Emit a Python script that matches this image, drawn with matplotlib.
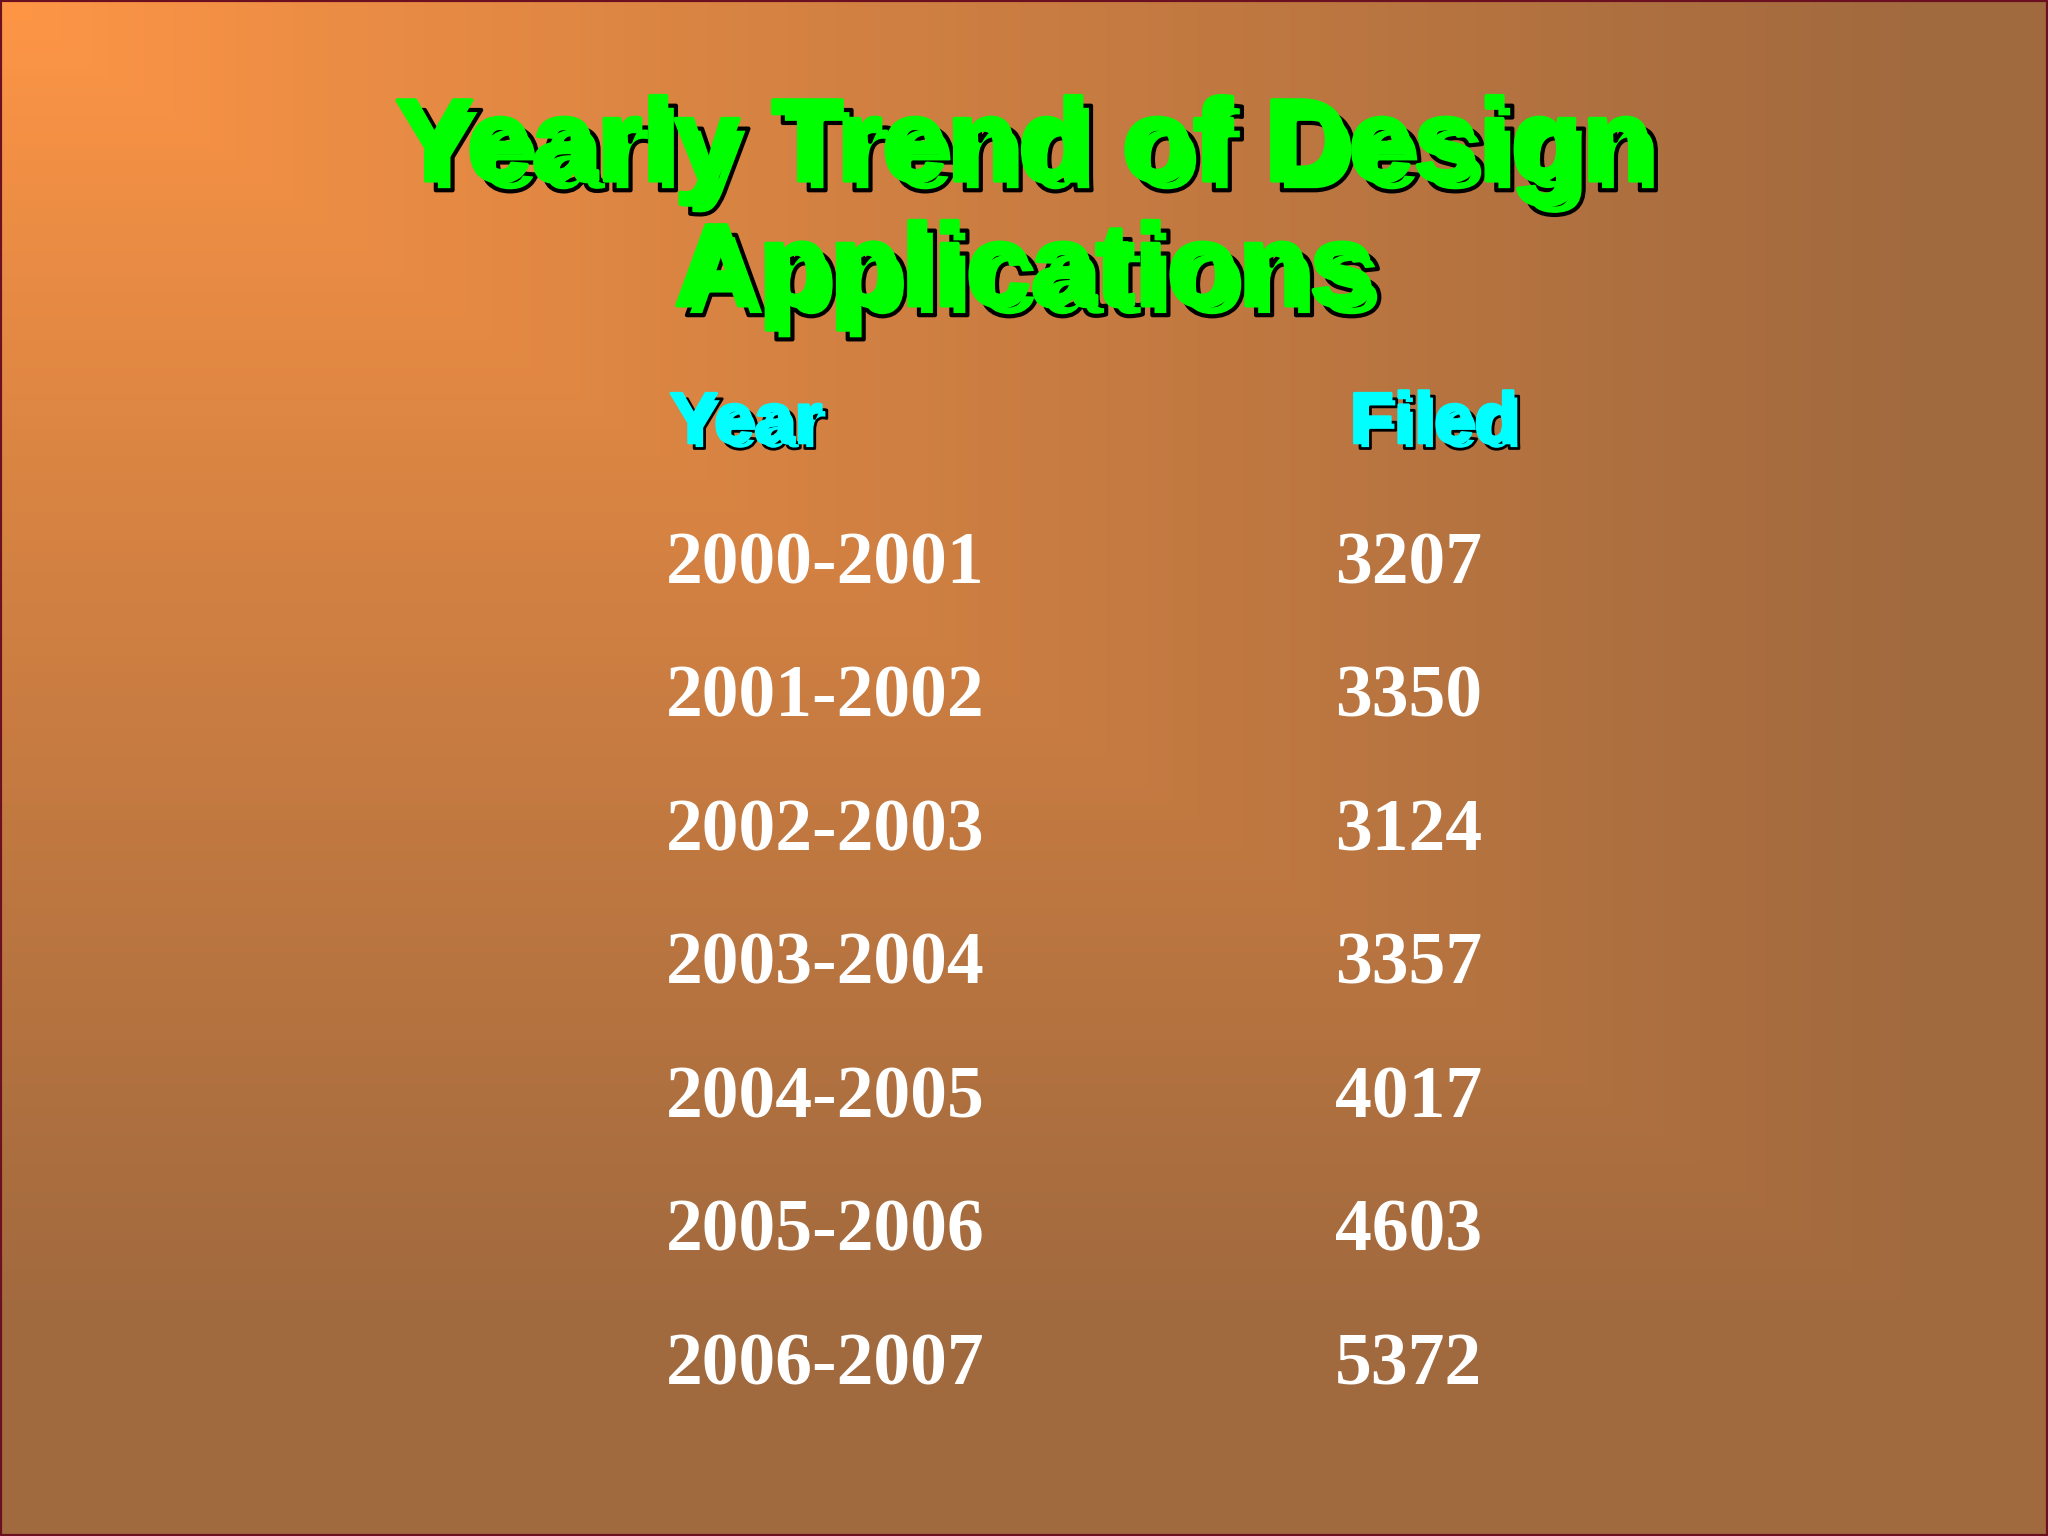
import matplotlib.pyplot as plt
import matplotlib.patheffects as pe
import numpy as np

title_lines = ["Yearly Trend of Design", "Applications"]
headers = ["Year", "Filed"]
years = ["2000-2001", "2001-2002", "2002-2003", "2003-2004", "2004-2005", "2005-2006", "2006-2007"]
filed = [3207, 3350, 3124, 3357, 4017, 4603, 5372]

fig = plt.figure(figsize=(20.48, 15.36), dpi=100)
ax = fig.add_axes([0, 0, 1, 1])
ax.set_xlim(0, 1)
ax.set_ylim(1, 0)
ax.axis("off")

# background gradient: orange top-left fading to brown
gx, gy = np.meshgrid(np.linspace(0, 1, 400), np.linspace(0, 1, 300))
t = np.clip(np.maximum(gx * 1.05, gy * 1.15) ** 0.9, 0, 1)
c0 = np.array([255, 150, 70]) / 255
c1 = np.array([160, 105, 62]) / 255
img = c0[None, None, :] * (1 - t[..., None]) + c1[None, None, :] * t[..., None]
ax.imshow(img, extent=(0, 1, 1, 0), aspect="auto", zorder=0)
ax.add_patch(plt.Rectangle((0, 0), 1, 1, fill=False, ec="#6a1020", lw=3, zorder=5))

def heavy(color, off, lw):
    # solid black drop shadow, then the text thickened by a same-colour stroke
    return [pe.SimplePatchShadow(offset=(off, -off), shadow_rgbFace="black", alpha=1),
            pe.Stroke(linewidth=lw, foreground="black", offset=(off, -off)),
            pe.Stroke(linewidth=lw, foreground=color), pe.Normal()]

for i, line in enumerate(title_lines):
    ax.text(0.5, 0.098 + i * 0.081, line, ha="center", va="center", fontsize=84,
            fontweight="bold", family="Liberation Sans", color="#00ff00",
            path_effects=heavy("#00ff00", 7, 3))

for x, h in zip([0.327, 0.659], headers):
    ax.text(x, 0.276, h, ha="left", va="center", fontsize=52, fontweight="bold",
            family="Liberation Sans", color="#00ffff", path_effects=heavy("#00ffff", 4, 2))

for i, (yr, n) in enumerate(zip(years, filed)):
    y = 0.368 + i * 0.0869
    ax.text(0.325, y, yr, ha="left", va="center", fontsize=53, fontweight="bold",
            family="Liberation Serif", color="white")
    ax.text(0.652, y, str(n), ha="left", va="center", fontsize=53, fontweight="bold",
            family="Liberation Serif", color="white")

fig.savefig("out.png", dpi=100)
